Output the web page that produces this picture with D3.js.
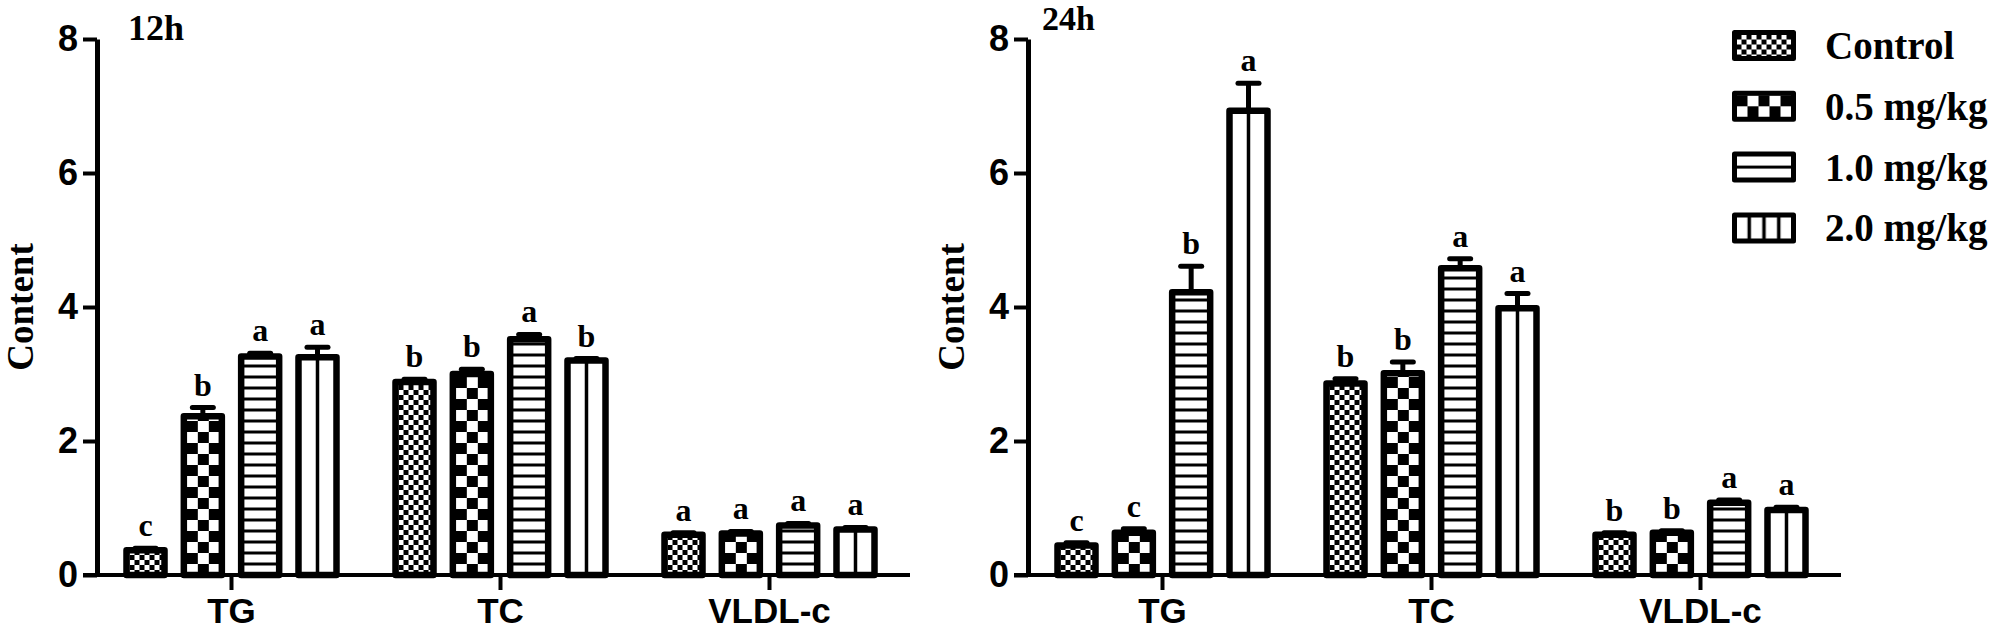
<!DOCTYPE html>
<html>
<head>
<meta charset="utf-8">
<script src="https://cdn.jsdelivr.net/npm/d3@7"></script>
<style>
  body { margin: 0; background: #fff; }
</style>
</head>
<body>
<div id="chart"></div>
<script>
// ── Data ──────────────────────────────────────────────────────────────────
const CATEGORIES = ['TG', 'TC', 'VLDL-c'];
const GROUPS     = ['Control', '0.5 mg/kg', '1.0 mg/kg', '2.0 mg/kg'];
const Y_TICKS    = [0, 2, 4, 6, 8];
const PANELS     = ['12h', '24h'];

// one row per category, one value per group
const MEAN_12H = [
  [0.37, 2.37, 3.26, 3.25],
  [2.88, 3.00, 3.52, 3.20],
  [0.60, 0.62, 0.74, 0.68],
];
const ERR_12H = [
  [0.03, 0.13, 0.05, 0.15],
  [0.04, 0.07, 0.07, 0.03],
  [0.03, 0.03, 0.03, 0.03],
];
const LETTERS_12H = [
  ['c', 'b', 'a', 'a'],
  ['b', 'b', 'a', 'b'],
  ['a', 'a', 'a', 'a'],
];

const MEAN_24H = [
  [0.44, 0.63, 4.22, 6.93],
  [2.86, 3.01, 4.58, 3.98],
  [0.60, 0.63, 1.08, 0.97],
];
const ERR_24H = [
  [0.04, 0.06, 0.39, 0.41],
  [0.07, 0.17, 0.14, 0.22],
  [0.03, 0.03, 0.04, 0.04],
];
const LETTERS_24H = [
  ['c', 'c', 'b', 'a'],
  ['b', 'b', 'a', 'a'],
  ['b', 'b', 'a', 'a'],
];

const PANEL_DATA = [
  { mean: MEAN_12H, err: ERR_12H, letters: LETTERS_12H },
  { mean: MEAN_24H, err: ERR_24H, letters: LETTERS_24H },
];

// ── Layout ────────────────────────────────────────────────────────────────
const W = 2000, H = 632;
const SERIF = '"Liberation Serif", "Times New Roman", serif';
const SANS  = '"Liberation Sans", Arial, sans-serif';

const PANEL_SHIFT  = 931;     // right panel is the left one moved across
const AXIS_X       = 97;
const BAR_STROKE   = 6.5;
const PATTERN_KIND = ['fine', 'check', 'hlines', 'vlines'];

const svg = d3.select('#chart')
  .append('svg')
  .attr('width', W)
  .attr('height', H)
  .style('display', 'block');

svg.append('rect').attr('width', W).attr('height', H).attr('fill', '#fff');

const defs = svg.append('defs');

const y = d3.scaleLinear().domain([0, 8]).range([575, 39]);

const xCat = d3.scaleBand()
  .domain(CATEGORIES)
  .range([AXIS_X, AXIS_X + 3 * 269])
  .padding(0);

const xGrp = d3.scaleBand()
  .domain(GROUPS)
  .range([-105, 105])
  .paddingInner(0.337)
  .paddingOuter(0);

// Fill patterns, anchored at (x0, y0) in the user space of the element using them
function addPattern(id, kind, x0, y0, period) {
  const p = defs.append('pattern')
    .attr('id', id)
    .attr('patternUnits', 'userSpaceOnUse')
    .attr('patternTransform', `translate(${x0},${y0})`);

  if (kind === 'fine' || kind === 'check') {
    const c = kind === 'fine' ? 5 : 11;
    p.attr('width', 2 * c).attr('height', 2 * c);
    p.append('rect').attr('width', 2 * c).attr('height', 2 * c).attr('fill', '#fff');
    p.append('rect').attr('width', c).attr('height', c).attr('fill', '#000');
    p.append('rect').attr('x', c).attr('y', c).attr('width', c).attr('height', c).attr('fill', '#000');
  } else if (kind === 'hlines') {
    p.attr('width', 20).attr('height', period);
    p.append('rect').attr('width', 20).attr('height', period).attr('fill', '#fff');
    p.append('rect').attr('y', period / 2 - 1.5).attr('width', 20).attr('height', 3).attr('fill', '#000');
  } else if (kind === 'vlines') {
    p.attr('width', period).attr('height', 20);
    p.append('rect').attr('width', period).attr('height', 20).attr('fill', '#fff');
    p.append('rect').attr('x', period / 2 - 1.75).attr('width', 3.5).attr('height', 20).attr('fill', '#000');
  } else {
    p.attr('width', 10).attr('height', 10);
    p.append('rect').attr('width', 10).attr('height', 10).attr('fill', '#fff');
  }
}

// ── Panels ────────────────────────────────────────────────────────────────
PANELS.forEach((panel, pi) => {
  const dx = pi * PANEL_SHIFT;
  const { mean, err, letters } = PANEL_DATA[pi];
  const g = svg.append('g').attr('transform', `translate(${dx},0)`);
  const bw = xGrp.bandwidth();

  const bars = [];
  CATEGORIES.forEach((cat, ci) => {
    GROUPS.forEach((grp, gi) => {
      const x0 = xCat(cat) + xCat.bandwidth() / 2 + xGrp(grp);
      bars.push({ cat, grp, gi, x0, v: mean[ci][gi], e: err[ci][gi], letter: letters[ci][gi],
                  id: `pat-${pi}-${ci}-${gi}` });
    });
  });

  bars.forEach(b => {
    const kind = PATTERN_KIND[b.gi];
    if (kind === 'vlines') addPattern(b.id, 'plain', 0, 0, 0);   // centre line drawn below
    else if (kind === 'hlines') addPattern(b.id, kind, b.x0, y(0) - 5.5, 11);
    else addPattern(b.id, kind, b.x0 + 3, y(0), 0);
  });

  // bars
  g.selectAll('.bar')
    .data(bars)
    .join('rect')
    .attr('class', 'bar')
    .attr('x', d => d.x0)
    .attr('y', d => y(d.v))
    .attr('width', bw)
    .attr('height', d => y(0) - y(d.v))
    .attr('fill', d => `url(#${d.id})`)
    .attr('stroke', '#000')
    .attr('stroke-width', BAR_STROKE)
    .attr('stroke-linejoin', 'round');

  // vertical centre line of the 2.0 mg/kg bars
  g.selectAll('.vline')
    .data(bars.filter(d => PATTERN_KIND[d.gi] === 'vlines'))
    .join('line')
    .attr('class', 'vline')
    .attr('x1', d => d.x0 + bw / 2).attr('x2', d => d.x0 + bw / 2)
    .attr('y1', d => y(d.v)).attr('y2', y(0))
    .attr('stroke', '#000').attr('stroke-width', 3.5);

  // error bars (upper half only shows)
  g.selectAll('.err')
    .data(bars)
    .join('line')
    .attr('class', 'err')
    .attr('x1', d => d.x0 + bw / 2).attr('x2', d => d.x0 + bw / 2)
    .attr('y1', d => y(d.v)).attr('y2', d => y(d.v + d.e))
    .attr('stroke', '#000').attr('stroke-width', 5);

  g.selectAll('.cap')
    .data(bars)
    .join('line')
    .attr('class', 'cap')
    .attr('x1', d => d.x0 + bw / 2 - 10.5).attr('x2', d => d.x0 + bw / 2 + 10.5)
    .attr('y1', d => y(d.v + d.e)).attr('y2', d => y(d.v + d.e))
    .attr('stroke', '#000').attr('stroke-width', 5).attr('stroke-linecap', 'round');

  // significance letters
  g.selectAll('.sig')
    .data(bars)
    .join('text')
    .attr('class', 'sig')
    .attr('x', d => d.x0 + bw / 2)
    .attr('y', d => y(d.v + d.e) - 12)
    .attr('text-anchor', 'middle')
    .style('font-family', SERIF)
    .style('font-weight', 'bold')
    .style('font-size', '32px')
    .text(d => d.letter);

  // y axis
  const yAxis = g.append('g')
    .attr('transform', `translate(${AXIS_X},0)`)
    .call(d3.axisLeft(y).tickValues(Y_TICKS).tickSize(14).tickSizeOuter(0).tickPadding(5));
  yAxis.select('.domain').attr('stroke-width', 5);
  yAxis.selectAll('.tick line').attr('stroke-width', 4);
  yAxis.selectAll('.tick text')
    .style('font-family', SANS).style('font-weight', 'bold').style('font-size', '36px')
    .attr('fill', '#000');

  // x axis
  const xAxis = g.append('g')
    .attr('transform', `translate(0,${y(0)})`)
    .call(d3.axisBottom(xCat).tickSize(15).tickSizeOuter(0).tickPadding(8));
  xAxis.select('.domain').remove();
  xAxis.append('line')
    .attr('x1', AXIS_X - 14).attr('x2', 910)
    .attr('stroke', '#000').attr('stroke-width', 4);
  xAxis.selectAll('.tick line').attr('stroke-width', 4);
  xAxis.selectAll('.tick text')
    .style('font-family', SANS).style('font-weight', 'bold').style('font-size', '35px')
    .attr('fill', '#000');

  // y title
  g.append('text')
    .attr('transform', `translate(33,${(y(0) + y(8)) / 2}) rotate(-90)`)
    .attr('text-anchor', 'middle')
    .style('font-family', SERIF).style('font-weight', 'bold').style('font-size', '37px')
    .text('Content');

  // panel label
  g.append('text')
    .attr('x', pi === 0 ? 128 : 111)
    .attr('y', pi === 0 ? 40 : 30)
    .style('font-family', SERIF).style('font-weight', 'bold')
    .style('font-size', pi === 0 ? '36px' : '34px')
    .text(panel);
});

// ── Legend ────────────────────────────────────────────────────────────────
const LEG_X = 1734.5;
const legend = svg.append('g').attr('transform', `translate(${LEG_X},0)`);
const SW = 59, SH = 26, ROW = 60.8;

GROUPS.forEach((grp, gi) => {
  const top = 32.5 + gi * ROW;
  const kind = PATTERN_KIND[gi];
  const id = `leg-${gi}`;
  if (kind === 'vlines') addPattern(id, kind, -SW / 8, 0, SW / 4);
  else if (kind === 'hlines') addPattern(id, kind, 0, top - 6.5, 13);
  else addPattern(id, kind, 2, top + 2, 0);

  legend.append('rect')
    .attr('x', 0).attr('y', top)
    .attr('width', SW).attr('height', SH)
    .attr('fill', `url(#${id})`)
    .attr('stroke', '#000').attr('stroke-width', 5)
    .attr('stroke-linejoin', 'round');

  legend.append('text')
    .attr('x', 90.5).attr('y', top + 26.5)
    .style('font-family', SERIF).style('font-weight', 'bold').style('font-size', '39px')
    .text(grp);
});
</script>
</body>
</html>
